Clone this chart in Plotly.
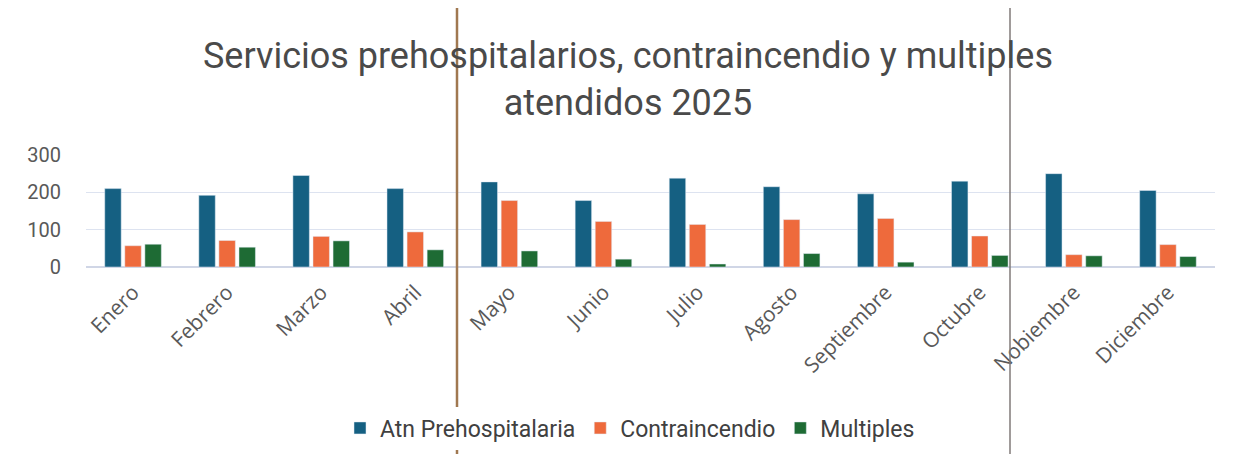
import plotly.graph_objects as go

months = ["Enero", "Febrero", "Marzo", "Abril", "Mayo", "Junio", "Julio",
          "Agosto", "Septiembre", "Octubre", "Nobiembre", "Diciembre"]
prehospitalaria = [210, 192, 245, 210, 228, 178, 238, 215, 196, 230, 250, 205]
contraincendio = [57, 71, 82, 94, 178, 122, 114, 127, 130, 83, 33, 60]
multiples = [61, 53, 70, 46, 43, 21, 8, 36, 13, 31, 30, 28]
y_ticks = [0, 100, 200, 300]

W, H = 1217, 446  # page has an 8px body margin
L, R, T, B = 78, 10, 147, 187
PW, PH = W - L - R, H - T - B

fig = go.Figure()
fig.add_bar(x=months, y=prehospitalaria, name="Atn Prehospitalaria", marker_color="#156082")
fig.add_bar(x=months, y=contraincendio, name="Contraincendio", marker_color="#EE6A3C")
fig.add_bar(x=months, y=multiples, name="Multiples", marker_color="#1E6B34")

fig.update_layout(
    width=W, height=H,
    paper_bgcolor="white", plot_bgcolor="white",
    margin=dict(l=L, r=R, t=T, b=B, autoexpand=False),
    barmode="group", bargap=0.36, bargroupgap=0.18,
    font=dict(family="Roboto, Lato, sans-serif", color="#595959"),
    title=dict(text="Servicios prehospitalarios, contraincendio y multiples<br>atendidos 2025",
               x=620 / W, xanchor="center", y=1 - 60 / H, yanchor="middle",
               font=dict(size=36, color="#4a4a4a")),
    legend=dict(orientation="h", x=(630 - 86) / PW, xanchor="center",
                y=(259 - 420) / PH, yanchor="middle",
                font=dict(size=23, color="#404040"), traceorder="normal",
                itemwidth=30),
    showlegend=True,
)
fig.update_xaxes(tickangle=-45, tickfont=dict(size=21, color="#595959", family="Open Sans, sans-serif"),
                 showline=False, showgrid=False, ticks="", automargin=False,
                 ticklabelstandoff=8)
fig.update_yaxes(range=[0, 300], tickvals=y_ticks, tickfont=dict(size=20, color="#595959"),
                 showgrid=True, gridcolor="#dde3f0", gridwidth=1, zeroline=True,
                 zerolinecolor="#d0d6e6", ticks="", ticklabelstandoff=24, automargin=False)

# scan fold lines
fig.add_shape(type="line", xref="paper", yref="paper", x0=(457 - 86) / PW, x1=(457 - 86) / PW,
              y0=-3, y1=2.5, line=dict(color="#a07850", width=2.5), layer="above")
fig.add_shape(type="line", xref="paper", yref="paper", x0=(1010 - 86) / PW, x1=(1010 - 86) / PW,
              y0=-3, y1=2.5, line=dict(color="#807a78", width=1.5), layer="above")

fig.write_html("out.html")
